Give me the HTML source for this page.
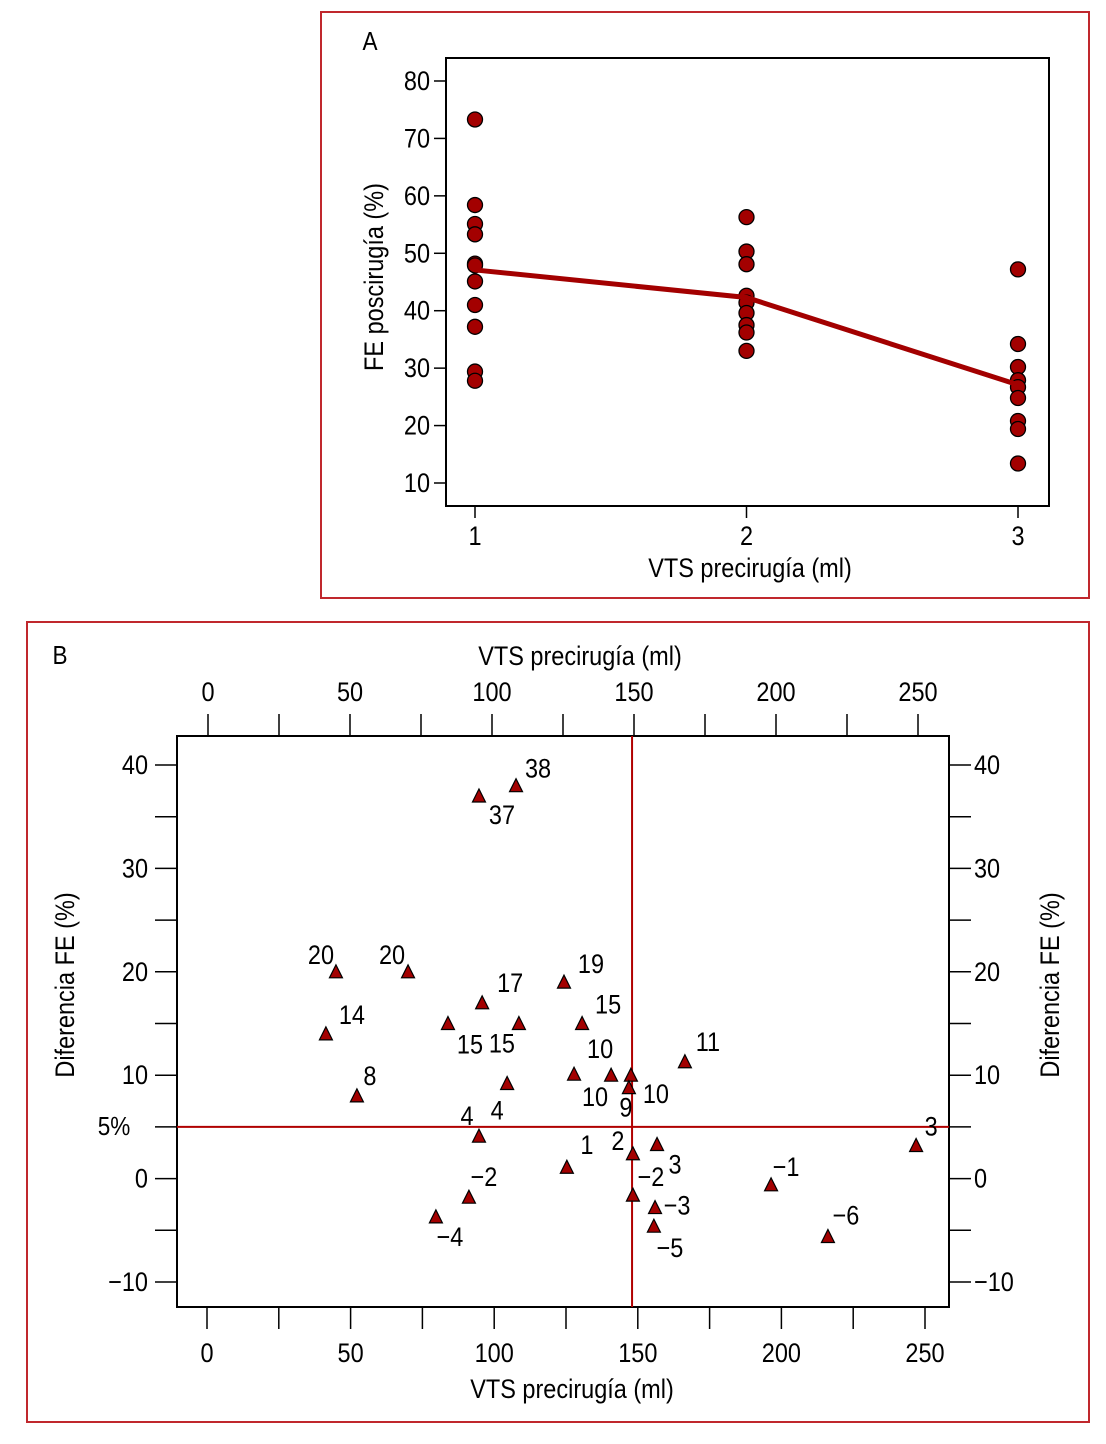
<!DOCTYPE html>
<html><head><meta charset="utf-8"><style>
html,body{margin:0;padding:0;background:#fff}
svg{display:block}
text{font-family:"Liberation Sans",sans-serif;fill:#000}
</style></head><body>
<svg id="chart" width="1106" height="1444" viewBox="0 0 1106 1444" xmlns="http://www.w3.org/2000/svg">
<rect x="321" y="12" width="768" height="586" fill="none" stroke="#c0282d" stroke-width="2"/>
<rect x="27" y="622" width="1062" height="800" fill="none" stroke="#c0282d" stroke-width="2"/>
<g id="ga"></g>
<g id="gb"></g>
</svg>
<script>
// Panel A data
const aCategories = [1, 2, 3];
const aGroup1 = [73.3, 58.4, 55.1, 53.3, 48.2, 47.9, 45.1, 41.0, 37.2, 29.4, 27.8];
const aGroup2 = [56.3, 50.3, 48.1, 42.6, 41.4, 39.6, 37.5, 36.2, 33.0];
const aGroup3 = [47.2, 34.2, 30.2, 27.9, 26.7, 24.8, 20.8, 19.4, 13.4];
const aMeans = [47.1, 42.3, 27.1];
const aYTicks = [10, 20, 30, 40, 50, 60, 70, 80];
// Panel B data
const bX = [44.9, 70, 107.6, 94.7, 95.8, 41.4, 83.9, 108.6, 124.3, 130.6, 52.2, 104.5, 94.7, 127.8, 140.7, 147.6, 146.9, 166.4, 125.3, 148.3, 156.7, 91.2, 79.7, 148.3, 156, 155.6, 196.4, 216.2, 246.9];
const bY = [20, 20, 38, 37, 17, 14, 15, 15, 19, 15, 8, 9.2, 4.1, 10.1, 10, 10, 8.8, 11.3, 1.1, 2.4, 3.3, -1.8, -3.7, -1.6, -2.8, -4.6, -0.6, -5.6, 3.2];
const bLabels = ["20","20","38","37","17","14","15","15","19","15","8","4","4","10","10","10","9","11","1","2","3","\u22122","\u22124","\u22122","\u22123","\u22125","\u22121","\u22126","3"];
const bLabelOffsets = [[-15,-17],[-16,-17],[22,-17],[23,19],[28,-20],[26,-19],[22,21],[-17,20],[27,-18],[26,-19],[13,-20],[-10,27],[-12,-20],[21,23],[-11,-26],[25,19],[-3,20],[23,-20],[20,-22],[-15,-13],[18,20],[15,-20],[14,20],[18,-18],[22,-2],[16,22],[15,-18],[18,-21],[15,-19]];
const bXTicks = [0, 50, 100, 150, 200, 250];
const bYTicks = [-10, 0, 10, 20, 30, 40];
const bRefX = 148;
const bRefY = 5;

const NS = "http://www.w3.org/2000/svg";
function mk(parent, tag, attrs) {
  const e = document.createElementNS(NS, tag);
  for (const k in attrs) e.setAttribute(k, attrs[k]);
  parent.appendChild(e);
  return e;
}
function txt(parent, x, y, s, size, anchor, rot) {
  const t = mk(parent, "text", {"font-size": size * 1.08, "text-anchor": anchor || "middle",
    transform: "translate(" + x + "," + y + ")" + (rot ? " rotate(" + rot + ")" : "") + " scale(0.87,1)"});
  t.textContent = s;
  return t;
}
const ga = document.getElementById("ga");
const gb = document.getElementById("gb");

// ----- Panel A -----
const axA = v => 475 + (v - 1) * 271.5;
const ayA = v => 483 - (v - 10) * 5.743;
let e;
e = mk(ga, "rect", {x: 446, y: 58, width: 603, height: 448, fill: "none", stroke: "#000", "stroke-width": 2});


e = txt(ga, 370, 50, "A", 24);


aYTicks.forEach(v => {
  e = mk(ga, "line", {x1: 434, x2: 446, y1: ayA(v), y2: ayA(v), stroke: "#000", "stroke-width": 1.5});
  
  
  e = txt(ga, 430, ayA(v) + 9, String(v), 25, "end");
  
  
});
aCategories.forEach(c => {
  e = mk(ga, "line", {x1: axA(c), x2: axA(c), y1: 506, y2: 518, stroke: "#000", "stroke-width": 1.5});
  
  
  e = txt(ga, axA(c), 545, String(c), 25);
  
  
});
e = txt(ga, 750, 577, "VTS precirugía (ml)", 25);


e = txt(ga, 383, 277, "FE poscirugía (%)", 25, "middle", -90);


[aGroup1, aGroup2, aGroup3].forEach((grp, gi) => {
  grp.forEach(v => {
    e = mk(ga, "circle", {cx: axA(aCategories[gi]), cy: ayA(v), r: 7.5, fill: "#a30000", stroke: "#000", "stroke-width": 1.3});
    
    
  });
});
e = mk(ga, "polyline", {points: aMeans.map((m, i) => axA(aCategories[i]) + "," + ayA(m)).join(" "), fill: "none", stroke: "#a30000", "stroke-width": 5});



// ----- Panel B -----
const bx = v => 207 + v * 2.872;
const bxTop = v => 208 + v * 2.84;
const by = v => 765 + (40 - v) * 10.34;
e = mk(gb, "rect", {x: 177, y: 736, width: 772, height: 571, fill: "none", stroke: "#000", "stroke-width": 2});


e = txt(gb, 60, 664, "B", 24);


for (let v = -10; v <= 40; v += 5) {
  const len = 22;
  e = mk(gb, "line", {x1: 177 - len, x2: 177, y1: by(v), y2: by(v), stroke: "#000", "stroke-width": 1.5});
  
  
  e = mk(gb, "line", {x1: 949, x2: 949 + len, y1: by(v), y2: by(v), stroke: "#000", "stroke-width": 1.5});
  
  
}
bYTicks.forEach(v => {
  const s = v < 0 ? "\u2212" + Math.abs(v) : String(v);
  e = txt(gb, 148, by(v) + 9, s, 25, "end");
  
  
  e = txt(gb, 974, by(v) + 9, s, 25, "start");
  
  
});
for (let v = 0; v <= 250; v += 25) {
  e = mk(gb, "line", {x1: bxTop(v), x2: bxTop(v), y1: 714, y2: 736, stroke: "#000", "stroke-width": 1.5});
  
  
  e = mk(gb, "line", {x1: bx(v), x2: bx(v), y1: 1307, y2: 1329, stroke: "#000", "stroke-width": 1.5});
  
  
}
bXTicks.forEach(v => {
  e = txt(gb, bxTop(v), 701, String(v), 25);
  
  
  e = txt(gb, bx(v), 1362, String(v), 25);
  
  
});
e = txt(gb, 580, 665, "VTS precirugía (ml)", 25);


e = txt(gb, 572, 1398, "VTS precirugía (ml)", 25);


e = txt(gb, 74, 985, "Diferencia FE (%)", 25, "middle", -90);


e = txt(gb, 1059, 985, "Diferencia FE (%)", 25, "middle", -90);


e = mk(gb, "line", {x1: 177, x2: 949, y1: by(bRefY), y2: by(bRefY), stroke: "#b00000", "stroke-width": 2});


e = mk(gb, "line", {x1: bx(bRefX), x2: bx(bRefX), y1: 736, y2: 1307, stroke: "#b00000", "stroke-width": 2});


e = txt(gb, 114, by(bRefY) + 8, "5%", 24);


bX.forEach((xv, i) => {
  const px = bx(xv), py = by(bY[i]);
  e = mk(gb, "polygon", {points: (px - 6.5) + "," + (py + 6) + " " + (px + 6.5) + "," + (py + 6) + " " + px + "," + (py - 7), fill: "#a30000", stroke: "#000", "stroke-width": 1.2});
  
  
  e = txt(gb, px + bLabelOffsets[i][0], py + bLabelOffsets[i][1] + 9, bLabels[i], 25);
  
  
});
</script>
</body></html>
